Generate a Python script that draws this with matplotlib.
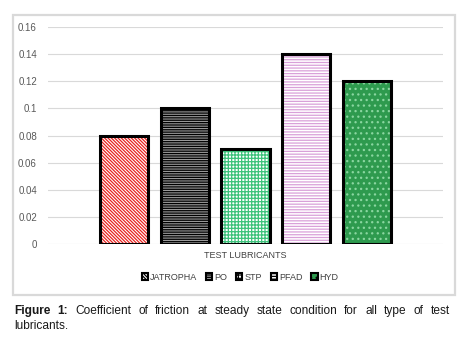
import numpy as np
import matplotlib
matplotlib.use("Agg")
import matplotlib.pyplot as plt
from matplotlib.patches import Rectangle, Patch

# data
lubricants = ["JATROPHA", "PO", "STP", "PFAD", "HYD"]
cof = [0.08, 0.10, 0.07, 0.14, 0.12]
yticks = [0, 0.02, 0.04, 0.06, 0.08, 0.1, 0.12, 0.14, 0.16]
ytick_labels = ["0", "0.02", "0.04", "0.06", "0.08", "0.1", "0.12", "0.14", "0.16"]

# look of each bar: face colour, hatch, hatch colour
faces = ["white", "#9a9a9a", "white", "white", "#2e9a4e"]
hatches = ["\\" * 10, "-" * 7, "+" * 5, "-" * 6, "." * 3]
hatch_cols = ["#e8231f", "black", "#3cc27a", "#d9a0d9", "#8ad6a0"]

plt.rcParams["font.family"] = ["Liberation Sans", "DejaVu Sans"]
plt.rcParams["hatch.linewidth"] = 0.9

W, H = 467, 340
fig = plt.figure(figsize=(W / 100, H / 100), dpi=100)

# grey box round the chart
fig.patches.append(Rectangle((13 / W, 1 - 295 / H), (455 - 13) / W, (295 - 15) / H,
                             transform=fig.transFigure, fill=False,
                             edgecolor="#d9d9d9", linewidth=1.6))

ax = fig.add_axes([48 / W, 1 - 244 / H, (443 - 48) / W, (244 - 27) / H])
x = np.arange(len(lubricants))
width = 0.79
for i in range(len(lubricants)):
    ax.bar(x[i], cof[i], width, color=faces[i], hatch=hatches[i],
           edgecolor=hatch_cols[i], linewidth=0, zorder=2)
    ax.bar(x[i], cof[i], width, fill=False, edgecolor="black",
           linewidth=2.2, zorder=3)

ax.set_xlim(-1.25, 5.25)
ax.set_ylim(0, 0.16)
ax.set_yticks(yticks)
ax.set_yticklabels(ytick_labels)
ax.set_xticks([])
ax.tick_params(axis="y", length=0, pad=8, labelsize=7, labelcolor="#595959")
ax.grid(axis="y", color="#d9d9d9", linewidth=0.8, zorder=0)
ax.set_axisbelow(True)
for s in ax.spines.values():
    s.set_visible(False)

fig.text(245 / W, 1 - 256 / H, "TEST LUBRICANTS", ha="center", va="center",
         fontsize=6.5, color="#404040")

handles = [Patch(facecolor=faces[i], hatch=hatches[i], edgecolor="black", linewidth=1.5)
           for i in range(len(lubricants))]
fig.legend(handles, lubricants, loc="center", bbox_to_anchor=(240 / W, 1 - 277 / H),
           ncol=5, frameon=False, fontsize=6.5, handlelength=0.7, handleheight=0.7,
           handletextpad=0.2, columnspacing=1.0, labelcolor="#404040")

# caption, justified on the first line
fs = 8.6
r = fig.canvas.get_renderer()
y1 = 1 - 311 / H
y2 = 1 - 326 / H
words = [("Figure", "bold"), ("1:", "bold")] + [
    (w, "normal") for w in "Coefficient of friction at steady state condition for all type of test".split()]
items = [fig.text(0, y1, w, fontsize=fs, fontweight=wt, va="center", color="#1a1a1a")
         for w, wt in words]
widths = [t.get_window_extent(r).width for t in items]
x0, x1 = 14, 450
gap = (x1 - x0 - sum(widths)) / (len(items) - 1)
cx = x0
for t, w in zip(items, widths):
    t.set_x(cx / W)
    cx += w + gap
fig.text(14 / W, y2, "lubricants.", fontsize=fs, va="center", color="#1a1a1a")

fig.savefig("out.png", dpi=100)
